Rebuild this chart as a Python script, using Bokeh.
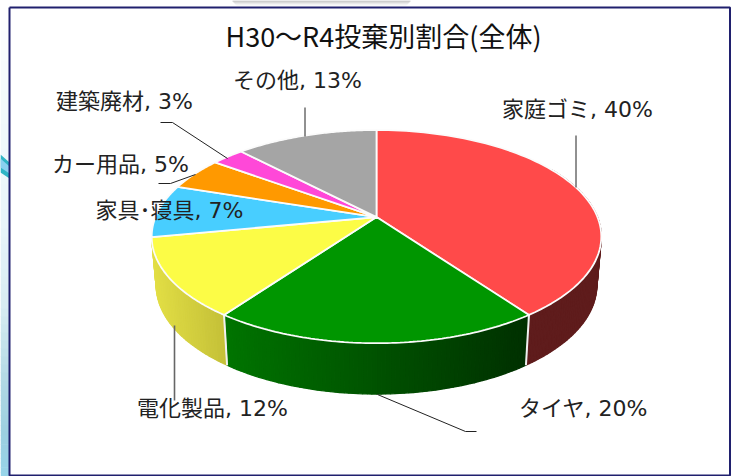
import numpy as np
from bokeh.plotting import figure
from bokeh.models import Range1d
from bokeh.core.properties import value
from bokeh.embed import file_html
from bokeh.resources import INLINE

title = "H30〜R4投棄別割合(全体)"
categories = ["家庭ゴミ", "タイヤ", "電化製品", "家具･寝具", "カー用品", "建築廃材", "その他"]
percent_labels = [40, 20, 12, 7, 5, 3, 13]
slice_shares = [40, 20, 12, 8, 5, 2.8, 12.2]   # as measured from the slice angles
colors = ["#FF4A4A", "#009600", "#FCFC46", "#48CEFF", "#FF9900", "#FF48D8", "#A5A5A5"]
side_left = ["#5F1C1C", "#007400", "#E2DE45", "#2A7A99", "#995C00", "#992B82", "#636363"]
side_right = ["#5F1C1C", "#003000", "#C4C038", "#2A7A99", "#995C00", "#992B82", "#636363"]

label_pos = [(577, 109), (583, 408), (212, 408), (169, 210), (120, 164), (124, 101), (297, 80)]
leaders = [
    ([575.5, 575.5], [135, 187], "#222222", 1),
    ([377, 465, 476], [394, 431, 431], "#222222", 1),
    ([174, 174], [325, 400], "#666666", 1.6),
    ([158, 170, 195], [183, 183, 174], "#222222", 1),
    ([160, 172, 227], [122, 122, 158], "#222222", 1),
    ([304.5, 304.5], [107, 136], "#222222", 1),
]

# page background seen at the left of the frame
bg_y = [0, 100, 220, 300, 380, 430, 476]
bg_c = ["#FFFFFF", "#F2F9FB", "#E8F5FA", "#D8ECF2", "#B0D8E4", "#9CCFE0", "#96D4EA"]
shadow_c = ["#B4B4B4", "#C4C4C4", "#D6D6D6", "#E8E8E8", "#F6F6F6"]

CX, A, K = 376.0, 221.0, 0.183
TOP_Y0, TOP_B = 216.6, 103.0
BOT_Y0, BOT_B, BOT_SX = 265.0, 105.0, 0.98


def project(theta_deg, y0, b, sx=1.0):
    t = np.radians(theta_deg)
    X, Y = np.sin(t), -np.cos(t)
    d = 1 - K * Y
    return CX + sx * A * X / d, y0 + b * Y / d


def mix(c1, c2, f):
    a = [int(c1[i:i + 2], 16) for i in (1, 3, 5)]
    b = [int(c2[i:i + 2], 16) for i in (1, 3, 5)]
    return "#%02x%02x%02x" % tuple(int(round(p + (q - p) * f)) for p, q in zip(a, b))


edges = np.concatenate([[0], np.cumsum(slice_shares)]) / sum(slice_shares) * 360

p = figure(width=731, height=476, x_range=Range1d(0, 731), y_range=Range1d(476, 0),
           output_backend="svg", toolbar_location=None, min_border=0,
           outline_line_color=None, background_fill_color="white", border_fill_color="white")
p.axis.visible = False
p.grid.visible = False

# background at the left, and the shadow above the frame
for y0, y1, c0, c1 in zip(bg_y[:-1], bg_y[1:], bg_c[:-1], bg_c[1:]):
    n = 10
    for j in range(n):
        p.quad(left=0, right=9, top=y0 + (y1 - y0) * j / n, bottom=y0 + (y1 - y0) * (j + 1) / n + 0.5,
               fill_color=mix(c0, c1, j / n), line_color=None)
p.patch([0, 9, 9, 0], [154, 162, 178, 172], fill_color="#2FB5C5", line_color=None)
p.patch([0, 9, 9, 0], [158, 166, 173, 167], fill_color="#8AD0F0", line_color=None)
for j, c in enumerate(shadow_c):
    p.quad(left=232 + j, right=410 - j, top=j, bottom=j + 1, fill_color=c, line_color=None)

# side wall, built from thin strips between the top rim and the bottom rim
for i in range(len(slice_shares)):
    a0, a1 = edges[i], edges[i + 1]
    steps = np.arange(a0, a1, 1.0).tolist() + [a1]
    xs, ys, cs = [], [], []
    for s0, s1 in zip(steps[:-1], steps[1:]):
        if not (60 < s1 and s0 < edges[3] - 0.01):
            continue
        tx, ty = project(np.array([s0, s1]), TOP_Y0, TOP_B)
        bx, by = project(np.array([s1, s0]), BOT_Y0, BOT_B, BOT_SX)
        xs.append(np.concatenate([tx, bx]).tolist())
        ys.append(np.concatenate([ty, by]).tolist())
        mx = project((s0 + s1) / 2, TOP_Y0, TOP_B)[0]
        span = project(np.array([a0, a1]), TOP_Y0, TOP_B)[0]
        f = (mx - span.min()) / max(span.max() - span.min(), 1)
        cs.append(mix(side_left[i], side_right[i], float(np.clip(f, 0, 1))))
    if xs:
        p.patches(xs, ys, fill_color=cs, line_color=cs, line_width=1.3)

# white dividers on the side wall
for e in edges:
    if 120 < e < 250:
        tx, ty = project(e, TOP_Y0, TOP_B)
        bx, by = project(e, BOT_Y0, BOT_B, BOT_SX)
        p.line([tx, bx], [ty, by], line_color="#F0F0F0", line_width=2)

# top face
for i in range(len(slice_shares)):
    th = np.linspace(edges[i], edges[i + 1], 80)
    rx, ry = project(th, TOP_Y0, TOP_B)
    p.patch([CX] + rx.tolist(), [TOP_Y0] + ry.tolist(), fill_color=colors[i],
            line_color="#FBFBFB", line_width=1.8)

# leader lines
for lx, ly, lc, lw in leaders:
    p.line(lx, ly, line_color=lc, line_width=lw)

# frame
p.line([9, 729.5, 729.5, 9, 9], [7, 7, 475, 475, 7], line_color="#20206E", line_width=2)

# texts
p.text([383], [35], text=[title], text_font=value("Noto Sans CJK JP"), text_font_size="27px",
       text_align="center", text_baseline="middle", text_color="#111111")
labels = [f"{c}, {v}%" for c, v in zip(categories, percent_labels)]
p.text([q[0] for q in label_pos], [q[1] for q in label_pos], text=labels,
       text_font=value("DejaVu Sans, Noto Sans CJK JP"), text_font_size="22px",
       text_align="center", text_baseline="middle", text_color="#222222")

open("out.html", "w").write(file_html(p, INLINE))
